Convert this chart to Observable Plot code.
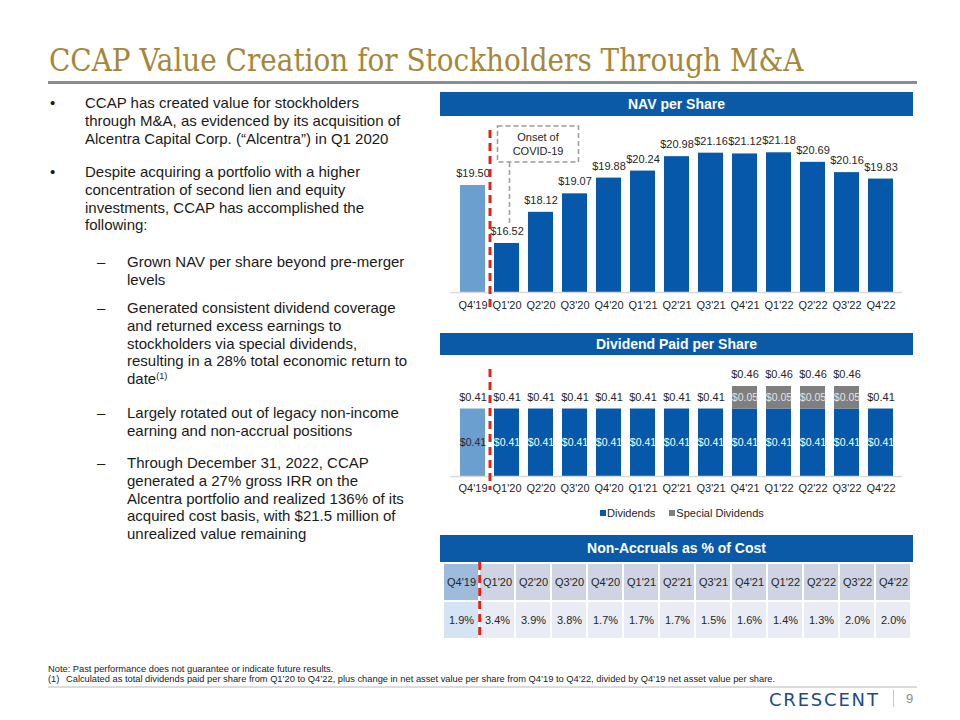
<!DOCTYPE html>
<html><head><meta charset="utf-8">
<script src="https://cdn.jsdelivr.net/npm/d3@7"></script>
<script src="https://cdn.jsdelivr.net/npm/@observablehq/plot@0.6"></script>
<style>
html,body{margin:0;padding:0;background:#fff;}
#page{position:relative;width:960px;height:720px;overflow:hidden;font-family:"Liberation Sans",Arial,sans-serif;color:#1a1a1a;}
#title{position:absolute;left:49px;top:38px;font-family:"DejaVu Serif Condensed","DejaVu Serif",serif;font-stretch:condensed;font-size:31px;line-height:44px;color:#a6873a;white-space:nowrap;}
#titleRule{position:absolute;left:48px;top:81px;width:869px;height:3px;background:#898c90;}
.para{position:absolute;font-size:15px;line-height:17.8px;white-space:nowrap;}
.mark{position:absolute;font-size:15px;line-height:17.8px;}
sup{font-size:9px;line-height:0;vertical-align:5px;}
.hdr{position:absolute;left:440px;width:473px;background:#0a5aa8;color:#fff;font-weight:bold;font-size:14px;text-align:center;}
.chart{position:absolute;}
.chart svg{overflow:visible;}
#legend{position:absolute;top:506px;left:600px;font-size:11px;line-height:14px;color:#262626;white-space:nowrap;}
#legend .sw{display:inline-block;width:6px;height:6px;margin-right:1px;vertical-align:1px;}
.foot{position:absolute;font-size:9.3px;line-height:11px;color:#1a1a1a;white-space:nowrap;}
#footRule{position:absolute;left:48px;top:686px;width:869px;height:2px;background:#dcdcdc;}
#logo{position:absolute;left:769px;top:690px;font-family:"DejaVu Sans",sans-serif;font-size:18px;line-height:20px;letter-spacing:1.8px;color:#1e4a87;}
#logoDiv{position:absolute;left:893px;top:690px;width:1px;height:17px;background:#c8c8c8;}
#pageNum{position:absolute;left:906px;top:690px;font-size:13px;line-height:17px;color:#8c8c8c;}
</style></head>
<body>
<div id="page">
  <div id="title">CCAP Value Creation for Stockholders Through M&amp;A</div>
  <div id="titleRule"></div>

  <div class="mark" style="left:50px;top:94px">•</div>
  <div class="para" style="left:85px;top:94px">CCAP has created value for stockholders<br>through M&amp;A, as evidenced by its acquisition of<br>Alcentra Capital Corp. (“Alcentra”) in Q1 2020</div>
  <div class="mark" style="left:50px;top:163px">•</div>
  <div class="para" style="left:85px;top:163px">Despite acquiring a portfolio with a higher<br>concentration of second lien and equity<br>investments, CCAP has accomplished the<br>following:</div>
  <div class="mark" style="left:97px;top:253px">–</div>
  <div class="para" style="left:127px;top:253px">Grown NAV per share beyond pre-merger<br>levels</div>
  <div class="mark" style="left:97px;top:299px">–</div>
  <div class="para" style="left:127px;top:299px">Generated consistent dividend coverage<br>and returned excess earnings to<br>stockholders via special dividends,<br>resulting in a 28% total economic return to<br>date<sup>(1)</sup></div>
  <div class="mark" style="left:97px;top:404px">–</div>
  <div class="para" style="left:127px;top:404px">Largely rotated out of legacy non-income<br>earning and non-accrual positions</div>
  <div class="mark" style="left:97px;top:454px">–</div>
  <div class="para" style="left:127px;top:454px">Through December 31, 2022, CCAP<br>generated a 27% gross IRR on the<br>Alcentra portfolio and realized 136% of its<br>acquired cost basis, with $21.5 million of<br>unrealized value remaining</div>

  <div class="hdr" style="top:92px;height:24px;line-height:24px">NAV per Share</div>
  <div class="chart" id="navChart" style="left:440px;top:116px"></div>

  <div class="hdr" style="top:333px;height:22px;line-height:22px">Dividend Paid per Share</div>
  <div class="chart" id="divChart" style="left:440px;top:356px"></div>
  <div id="legend"></div>

  <div class="hdr" style="top:535px;height:27px;line-height:27px">Non-Accruals as % of Cost</div>
  <div class="chart" id="tableChart" style="left:440px;top:562px"></div>

  <div class="foot" style="left:48px;top:664px">Note: Past performance does not guarantee or indicate future results.</div>
  <div class="foot" style="left:48px;top:674px">(1)</div>
  <div class="foot" style="left:66px;top:674px">Calculated as total dividends paid per share from Q1’20 to Q4’22, plus change in net asset value per share from Q4’19 to Q4’22, divided by Q4’19 net asset value per share.</div>
  <div id="footRule"></div>
  <div id="logo">CRESCENT</div>
  <div id="logoDiv"></div>
  <div id="pageNum">9</div>
</div>
<script>
// ---------- data ----------
const quarters = ["Q4'19","Q1'20","Q2'20","Q3'20","Q4'20","Q1'21","Q2'21","Q3'21","Q4'21","Q1'22","Q2'22","Q3'22","Q4'22"];
const navPerShare = [19.50,16.52,18.12,19.07,19.88,20.24,20.98,21.16,21.12,21.18,20.69,20.16,19.83];
const regularDividends = [0.41,0.41,0.41,0.41,0.41,0.41,0.41,0.41,0.41,0.41,0.41,0.41,0.41];
const specialDividends = [0,0,0,0,0,0,0,0,0.05,0.05,0.05,0.05,0];
const nonAccrualPct = [1.9,3.4,3.9,3.8,1.7,1.7,1.7,1.5,1.6,1.4,1.3,2.0,2.0];
const seriesNames = ["Dividends","Special Dividends"];
const tableRows = ["Quarter","Non-Accruals"];
const preMergerQuarter = "Q4'19";
const annotationText = ["Onset of","COVID-19"];
const navAxisMin = 14, navAxisMax = 22.325;
const divAxisMin = 0.26, divAxisMax = 0.4978;

// ---------- styles ----------
const BLUE = "#0659aa", PRE_BLUE = "#6b9fcf", GRAY = "#7f7f7f", RED = "#e2231a", TXT = "#262626";
const FONT = "'Liberation Sans', Arial, sans-serif";
const W = 476, ML = 10.5, MR = 14, PAD = 0.265;
const step = (W - ML - MR) / (quarters.length + PAD);
const baseStyle = {fontFamily: FONT, fontSize: "11px", color: TXT, background: "transparent", overflow: "visible"};

// ---------- NAV per share ----------
const navData = quarters.map((q, i) => ({q, nav: navPerShare[i], pre: q === preMergerQuarter}));
const nav = Plot.plot({
  width: W, height: 200, marginLeft: ML, marginRight: MR, marginTop: 14, marginBottom: 24,
  style: baseStyle,
  x: {type: "band", domain: quarters, padding: PAD, tickSize: 0, tickPadding: 9, label: null},
  y: {domain: [navAxisMin, navAxisMax], axis: null},
  color: {type: "identity"},
  marks: [
    Plot.barY(navData, {x: "q", y1: navAxisMin, y2: "nav", fill: d => d.pre ? PRE_BLUE : BLUE}),
    Plot.ruleY([navAxisMin], {stroke: "#d9d9d9", strokeWidth: 1.5}),
    Plot.text(navData, {x: "q", y: "nav", text: d => "$" + d.nav.toFixed(2), dy: -12, fontSize: 11, fill: TXT}),
    Plot.ruleX([preMergerQuarter], {dx: step / 2, stroke: RED, strokeWidth: 3, strokeDasharray: "8,5", insetBottom: -18})
  ]
});
document.getElementById("navChart").appendChild(nav);

// annotation callout anchored to the scales
(function () {
  const xs = nav.scale("x"), ys = nav.scale("y");
  const q1 = navData[1];
  const left = xs.apply(q1.q) + 3.5, top = 10, bw = 81, bh = 36;
  const g = d3.select(nav).append("g").attr("font-family", FONT).attr("font-size", 11);
  g.append("rect").attr("x", left).attr("y", top).attr("width", bw).attr("height", bh)
    .attr("fill", "none").attr("stroke", "#9a9a9a").attr("stroke-width", 1.5).attr("stroke-dasharray", "5,3");
  annotationText.forEach((t, i) => g.append("text").attr("x", left + bw / 2).attr("y", top + 11 + i * 14)
    .attr("dy", "0.35em").attr("text-anchor", "middle").attr("fill", TXT).text(t));
  const cx = xs.apply(q1.q) + xs.bandwidth / 2 + 3;
  g.append("line").attr("x1", cx).attr("x2", cx).attr("y1", top + bh).attr("y2", ys.apply(q1.nav) - 20)
    .attr("stroke", "#9a9a9a").attr("stroke-width", 1.5).attr("stroke-dasharray", "5,3");
})();

// ---------- Dividends ----------
const divRows = quarters.map((q, i) => ({q, regular: regularDividends[i], special: specialDividends[i], pre: q === preMergerQuarter}));
const divLong = divRows.flatMap(d => [
  {q: d.q, series: seriesNames[0], value: d.regular, pre: d.pre},
  {q: d.q, series: seriesNames[1], value: d.special, pre: d.pre}
]);
const div = Plot.plot({
  width: W, height: 142, marginLeft: ML, marginRight: MR, marginTop: 13, marginBottom: 22,
  style: baseStyle,
  x: {type: "band", domain: quarters, padding: PAD, tickSize: 0, tickPadding: 8, label: null},
  y: {domain: [divAxisMin, divAxisMax], axis: null},
  color: {type: "identity"},
  marks: [
    Plot.barY(divLong, {x: "q", y: "value", fill: d => d.series === seriesNames[1] ? GRAY : (d.pre ? PRE_BLUE : BLUE), clip: true}),
    Plot.ruleY([divAxisMin], {stroke: "#d9d9d9", strokeWidth: 1.5}),
    Plot.text(divRows, {x: "q", y: d => (divAxisMin + d.regular) / 2, text: d => "$" + d.regular.toFixed(2), fontSize: 10.5, fill: d => d.pre ? TXT : "#ffffff"}),
    Plot.text(divRows.filter(d => d.special > 0), {x: "q", y: d => d.regular + d.special / 2, text: d => "$" + d.special.toFixed(2), fontSize: 10.5, fill: "#e4e4e4"}),
    Plot.text(divRows, {x: "q", y: d => d.regular + d.special, text: d => "$" + (d.regular + d.special).toFixed(2), dy: -12, fontSize: 11, fill: TXT}),
    Plot.ruleX([preMergerQuarter], {dx: step / 2, stroke: RED, strokeWidth: 3, strokeDasharray: "8,5", insetBottom: -14})
  ]
});
document.getElementById("divChart").appendChild(div);
document.getElementById("legend").innerHTML =
  `<span class="sw" style="background:${BLUE}"></span>${seriesNames[0]}<span style="display:inline-block;width:14px"></span>` +
  `<span class="sw" style="background:${GRAY}"></span>${seriesNames[1]}`;

// ---------- Non-accrual table ----------
const cells = quarters.flatMap((q, i) => [
  {q, row: tableRows[0], label: q, pre: q === preMergerQuarter},
  {q, row: tableRows[1], label: nonAccrualPct[i].toFixed(1) + "%", pre: q === preMergerQuarter}
]);
const TW = 473;
const tstep = TW / quarters.length;
const table = Plot.plot({
  width: TW, height: 77, margin: 0,
  style: baseStyle,
  x: {type: "band", domain: quarters, padding: 0, axis: null},
  y: {type: "band", domain: tableRows, padding: 0, axis: null},
  color: {type: "identity"},
  marks: [
    Plot.cell(cells, {x: "q", y: "row", inset: 1,
      fill: d => d.row === tableRows[0] ? (d.pre ? "#9dbcdd" : "#ced4e3") : (d.pre ? "#d4e4f4" : "#e9ecf4")}),
    Plot.text(cells, {x: "q", y: "row", text: "label", fontSize: 11, fill: TXT}),
    Plot.ruleX([preMergerQuarter], {dx: tstep / 2, stroke: RED, strokeWidth: 3, strokeDasharray: "8,5"})
  ]
});
document.getElementById("tableChart").appendChild(table);
</script>
</body></html>
